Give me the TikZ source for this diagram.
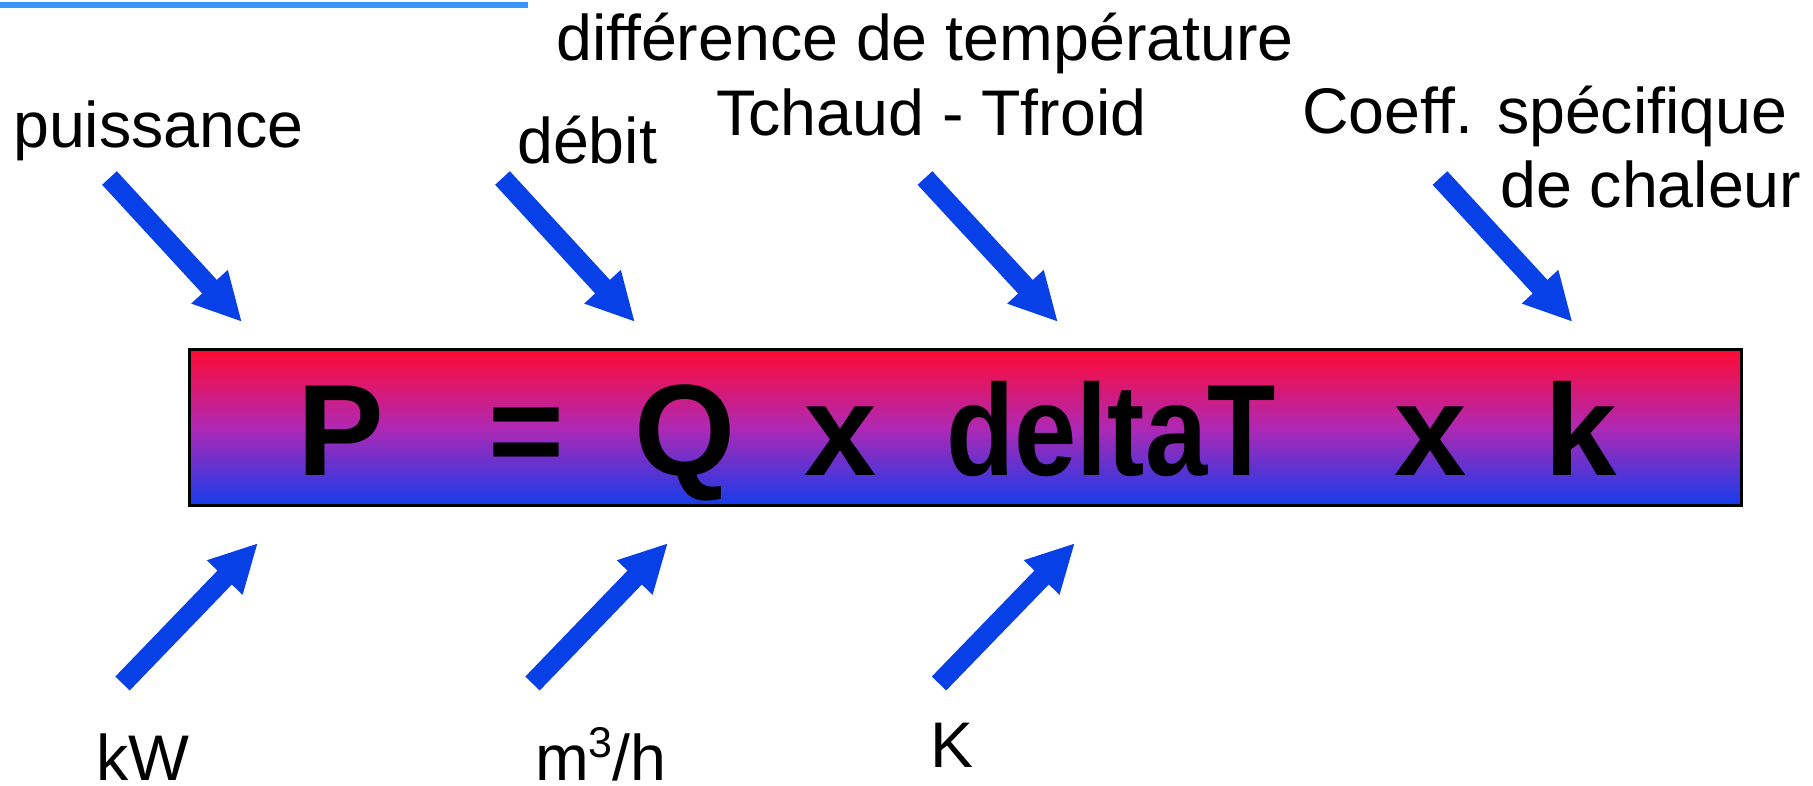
\documentclass[tikz,border=0pt]{standalone}
\usepackage{fontspec}
\setmainfont{Liberation Sans}
\usetikzlibrary{arrows.meta}
\definecolor{arrowblue}{RGB}{8,64,232}
\definecolor{lineblue}{RGB}{58,150,255}
\definecolor{topred}{RGB}{255,10,50}
\definecolor{midmag}{RGB}{175,40,180}
\definecolor{botblue}{RGB}{20,60,235}
\tikzset{
  lbl/.style={inner sep=0pt, anchor=base west, font=\fontsize{64.5}{70}\selectfont},
  frm/.style={inner sep=0pt, anchor=base, font=\fontsize{130}{140}\selectfont\bfseries},
  blockarrow/.style={draw=arrowblue, line width=20pt, -{Triangle[width=46pt,length=48pt]}, arrowblue},
}
\begin{document}
\begin{tikzpicture}[x=1pt,y=-1pt]
\useasboundingbox (0,0) rectangle (1813,785);
% top line
\coordinate (l1) at (0,5);
\coordinate (l2) at (528,5);
\draw[lineblue, line width=6pt] (l1) -- (l2);
% box
\node[draw=black, line width=3pt, minimum width=1552pt, minimum height=156pt, inner sep=0pt,
      top color=topred, bottom color=botblue, middle color=midmag, anchor=north west] (box) at (188,348) {};
% formula
\node[frm] (fP) at (341,475) {P};
\node[frm] (fEq) at (526,475) {=};
\node[frm] (fQ) at (685,475) {Q};
\node[frm] (fx1) at (841,475) {x};
\node[frm] (fd) at (1111,475) {\scalebox{0.86}[1]{deltaT}};
\node[frm] (fx2) at (1431,475) {x};
\node[frm] (fk) at (1581,475) {k};
% labels
\node[lbl] (diff) at (556,60) {différence de température};
\node[lbl] (tch) at (716,135) {Tchaud - Tfroid};
\node[lbl] (puis) at (13,147) {puissance};
\node[lbl] (deb) at (517,163) {débit};
\node[lbl] (coef) at (1302,133) {Coeff. spécifique};
\node[lbl] (chal) at (1500,207) {de chaleur};
\node[lbl] (kw) at (96,780) {kW};
\node[lbl] (m3) at (535,780) {m\raisebox{0.35em}{\fontsize{43}{46}\selectfont 3}/h};
\node[lbl] (kk) at (930,767) {K};
% arrow coordinates
\coordinate (a1s) at (109.5,178); \coordinate (a1e) at (242,322);
\coordinate (a2s) at (502.5,178); \coordinate (a2e) at (635,322);
\coordinate (a3s) at (925,178);   \coordinate (a3e) at (1058,322);
\coordinate (a4s) at (1440,178);  \coordinate (a4e) at (1572.5,322);
\coordinate (a5s) at (122.5,683.5); \coordinate (a5e) at (258,543);
\coordinate (a6s) at (532.5,683.5); \coordinate (a6e) at (668,543);
\coordinate (a7s) at (939,683.5);   \coordinate (a7e) at (1075,543);
\foreach \i in {1,...,7} {\draw[blockarrow] (a\i s) -- (a\i e);}
\end{tikzpicture}
\end{document}
